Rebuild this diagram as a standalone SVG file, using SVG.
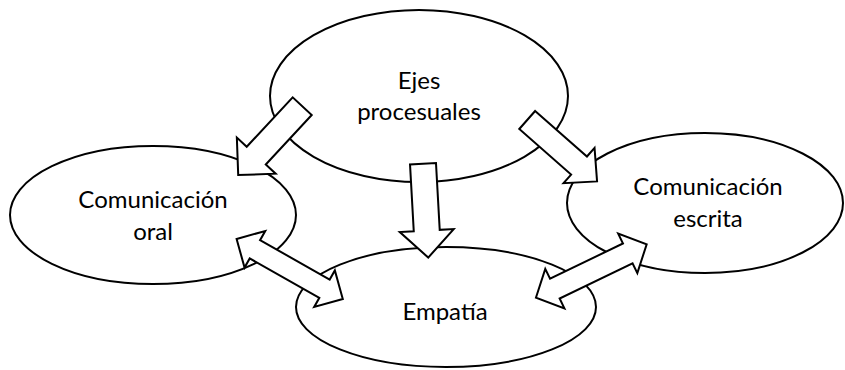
<svg xmlns="http://www.w3.org/2000/svg" width="845" height="370" viewBox="0 0 845 370">
<style>
.node ellipse{fill:#fff;stroke:#000;stroke-width:2}
.node text{font-family:Lato,"Liberation Sans",sans-serif;font-size:24px;fill:#000;text-anchor:middle}
.arrow{fill:#fff;stroke:#000;stroke-width:2;stroke-linejoin:miter}
</style>
<rect width="845" height="370" fill="#fff"/>
<g id="node-ejes" class="node">
<ellipse cx="419" cy="96" rx="149" ry="86"/>
<text x="419" y="89">Ejes</text>
<text x="419" y="120">procesuales</text>
</g>
<g id="node-oral" class="node">
<ellipse cx="153" cy="215" rx="143" ry="69"/>
<text x="153" y="208">Comunicación</text>
<text x="153" y="240">oral</text>
</g>
<g id="node-escrita" class="node">
<ellipse cx="705" cy="203" rx="138" ry="70"/>
<text x="708" y="195">Comunicación</text>
<text x="708" y="227">escrita</text>
</g>
<g id="node-empatia" class="node">
<ellipse cx="446" cy="307" rx="150" ry="60"/>
<text x="445" y="320">Empatía</text>
</g>
<g id="connectors">
<path class="arrow" transform="translate(302.2,106.2) rotate(132.9)" d="M0,-13 L67.5,-13 L67.5,-26.5 L94,0 L67.5,26.5 L67.5,13 L0,13 Z"/>
<path class="arrow" transform="translate(423,163.7) rotate(86.8)" d="M0,-13 L67,-13 L67,-27 L94,0 L67,27 L67,13 L0,13 Z"/>
<path class="arrow" transform="translate(527.2,120) rotate(41.3)" d="M0,-12 L69,-12 L69,-23.5 L93,0 L69,23.5 L69,12 L0,12 Z"/>
<path class="arrow" transform="translate(289.7,269) rotate(29.5)" d="M-61,0 L-40,-21 L-40,-10.5 L40,-10.5 L40,-21 L61,0 L40,21 L40,10.5 L-40,10.5 L-40,21 Z"/>
<path class="arrow" transform="translate(591.3,271) rotate(-25.8)" d="M-61.5,0 L-40.5,-22 L-40.5,-11 L40.5,-11 L40.5,-22 L61.5,0 L40.5,22 L40.5,11 L-40.5,11 L-40.5,22 Z"/>
</g>
</svg>
